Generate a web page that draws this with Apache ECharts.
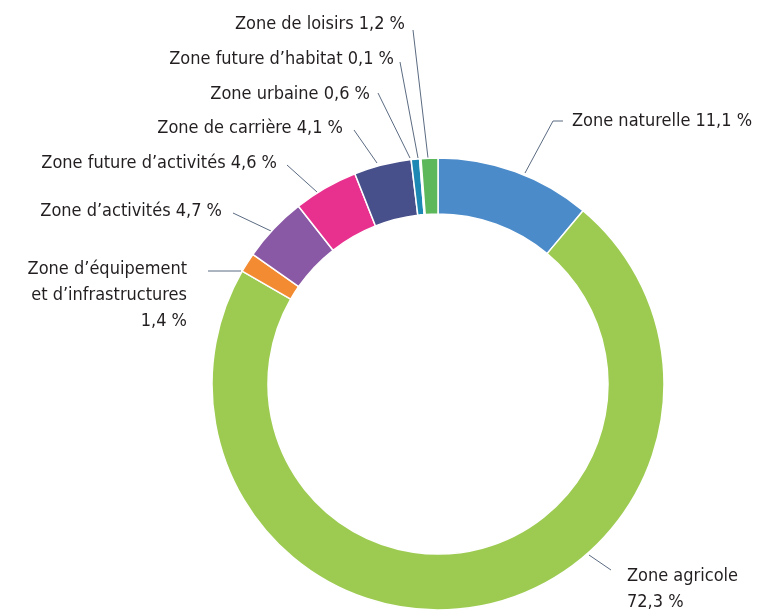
<!DOCTYPE html>
<html>
<head>
<meta charset="utf-8">
<script src="https://cdn.jsdelivr.net/npm/echarts@6/dist/echarts.min.js"></script>
<style>
  html, body { margin: 0; padding: 0; background: #fff; }
  #chart { width: 757px; height: 614px; }
</style>
</head>
<body>
<div id="chart"></div>
<script>
// Land-use zones (share of total area, %)
const categories = [
  'Zone naturelle',
  'Zone agricole',
  'Zone d’équipement\net d’infrastructures',
  'Zone d’activités',
  'Zone future d’activités',
  'Zone de carrière',
  'Zone urbaine',
  'Zone future d’habitat',
  'Zone de loisirs'
];
const values = [11.1, 72.3, 1.4, 4.7, 4.6, 4.1, 0.6, 0.1, 1.2];
const colors = ['#4b8bca', '#9dcb51', '#f28b32', '#8a59a6', '#e8318f', '#47508b', '#1e88b4', '#b8b49a', '#5cb85b'];
// Labels whose value goes on its own line
const valueOnNewLine = [1, 2];

// Label placement: anchor point, text alignment and leader-line path
const labelPlacement = [
  { x: 572, y: 121, align: 'left',  line: [[525, 173], [553, 121], [563, 121]] },
  { x: 627, y: 589, align: 'left',  line: [[589, 555], [611, 570], [611, 570]] },
  { x: 187, y: 295, align: 'right', line: [[241, 271], [208, 271], [208, 271]] },
  { x: 222, y: 211, align: 'right', line: [[271, 231], [233, 213], [233, 213]] },
  { x: 277, y: 163, align: 'right', line: [[317, 192], [287, 165], [287, 165]] },
  { x: 343, y: 128, align: 'right', line: [[377, 163], [354, 130], [354, 130]] },
  { x: 370, y: 94,  align: 'right', line: [[410, 158], [378, 93], [378, 93]] },
  { x: 394, y: 59,  align: 'right', line: [[418, 158], [400, 62], [400, 62]] },
  { x: 405, y: 24,  align: 'right', line: [[428, 158], [413, 30], [413, 30]] }
];

const chart = echarts.init(document.getElementById('chart'), null, { renderer: 'canvas' });

chart.setOption({
  backgroundColor: '#ffffff',
  animation: false,
  series: [{
    type: 'pie',
    center: [438, 384],
    radius: [170, 226],
    startAngle: 90,
    clockwise: true,
    avoidLabelOverlap: false,
    itemStyle: { borderColor: '#ffffff', borderWidth: 1.5 },
    label: {
      show: true,
      position: 'outside',
      color: '#231f20',
      fontFamily: '"Liberation Sans Narrow", "DejaVu Sans Condensed", sans-serif',
      fontSize: 18,
      lineHeight: 26,
      formatter: function (p) {
        const v = String(p.value).replace('.', ',') + ' %';
        const sep = valueOnNewLine.indexOf(p.dataIndex) >= 0 ? '\n' : ' ';
        return p.name + sep + v;
      }
    },
    labelLine: {
      show: true,
      length: 10,
      length2: 10,
      lineStyle: { color: '#5b6b82', width: 1 }
    },
    labelLayout: function (params) {
      const pl = labelPlacement[params.dataIndex];
      return {
        x: pl.x,
        y: pl.y,
        align: pl.align,
        verticalAlign: 'middle',
        labelLinePoints: pl.line
      };
    },
    data: categories.map(function (name, i) {
      return { name: name, value: values[i], itemStyle: { color: colors[i] } };
    })
  }]
});
</script>
</body>
</html>
